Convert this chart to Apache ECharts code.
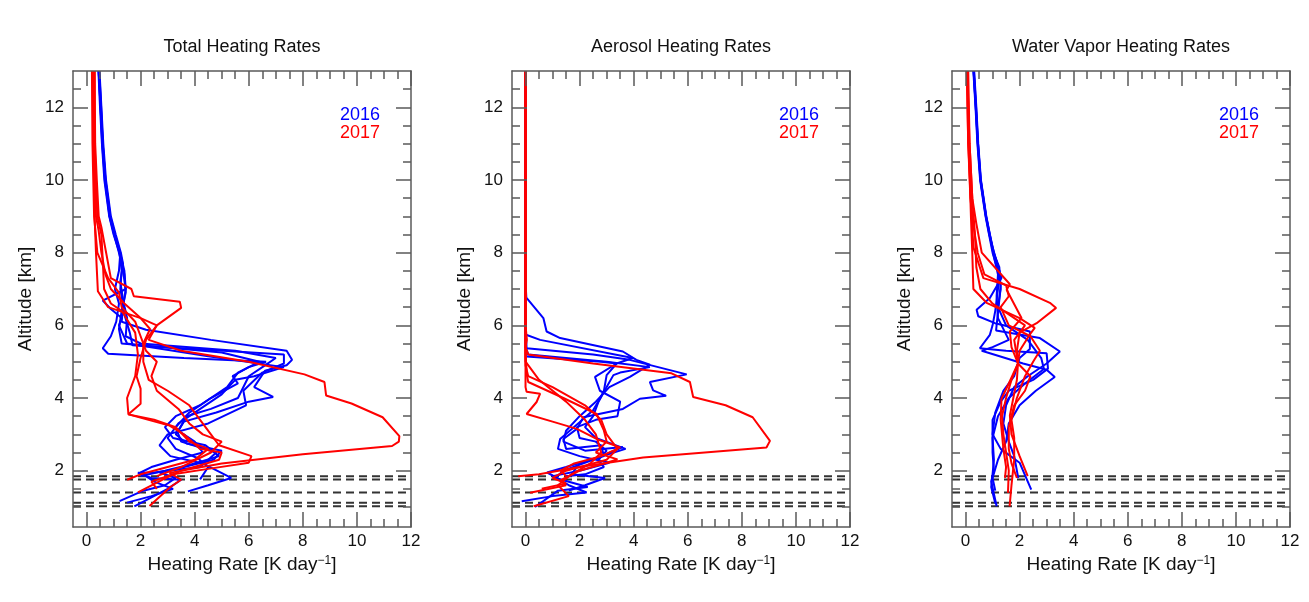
<!DOCTYPE html>
<html>
<head>
<meta charset="utf-8">
<script src="https://cdn.jsdelivr.net/npm/echarts@6/dist/echarts.min.js"></script>
<style>html,body{margin:0;padding:0;background:#fff;}#c{width:1309px;height:602px;}</style>
</head>
<body>
<div id="c"></div>
<script>
// ---------------- data ----------------
const panelTitles = ['Total Heating Rates', 'Aerosol Heating Rates', 'Water Vapor Heating Rates'];
const xAxisName = 'Heating Rate [K day{sup|\u22121}]';
const yAxisName = 'Altitude [km]';
const xMajorTicks = [0, 2, 4, 6, 8, 10, 12];
const xMinorTicks = [0.5, 1, 1.5, 2.5, 3, 3.5, 4.5, 5, 5.5, 6.5, 7, 7.5, 8.5, 9, 9.5, 10.5, 11, 11.5];
const yMajorTicks = [2, 4, 6, 8, 10, 12];
const yMinorTicks = [1, 1.5, 2.5, 3, 3.5, 4.5, 5, 5.5, 6.5, 7, 7.5, 8.5, 9, 9.5, 10.5, 11, 11.5, 12.5];
const dashedAltitudes = [1.85, 1.76, 1.4, 1.12, 1.02];
const legendYears = ['2016', '2017'];

// Total heating rate profiles [heating rate, altitude]
const total2016 = [
  [[0.45,13],[0.52,12],[0.58,11],[0.68,10],[0.85,9],[1.02,8.5],[1.2,8],[1.35,7.5],[1.45,7],[1.35,6.5],[1.3,6.1],[2.2,5.88],[4.6,5.6],[7.4,5.3],[7.6,5.05],[7.4,4.9],[6.6,4.75],[6.2,4.3],[6.9,4.03],[6.0,3.9],[4.8,3.6],[3.6,3.35],[3.3,3.0],[3.7,2.75],[5.0,2.55],[4.7,2.3],[3.6,2.1],[2.7,1.95],[3.3,1.8],[2.9,1.6],[2.1,1.45],[1.22,1.16]],
  [[0.47,13],[0.54,12],[0.6,11],[0.7,10],[0.88,9],[1.05,8.5],[1.25,8],[1.2,7.5],[1.05,7.0],[1.2,6.6],[1.1,6.1],[0.9,5.7],[0.6,5.37],[0.8,5.22],[3.6,5.1],[6.64,5.0],[6.0,4.85],[5.4,4.6],[5.6,4.4],[4.6,4.0],[3.8,3.6],[3.3,3.2],[3.5,2.8],[4.8,2.5],[4.2,2.1],[2.5,1.95],[1.9,1.94],[2.4,1.8],[3.5,1.75],[3.0,1.5],[1.77,1.02]],
  [[0.44,13],[0.5,12],[0.57,11],[0.66,10],[0.84,9],[1.0,8.5],[1.22,8.0],[1.3,7.5],[1.25,7.0],[1.3,6.8],[1.4,6.3],[1.6,5.8],[1.7,5.45],[4.0,5.35],[7.3,5.2],[7.3,4.95],[6.5,4.7],[5.8,4.2],[5.9,3.8],[4.5,3.3],[3.0,3.0],[2.7,2.7],[3.1,2.4],[4.3,2.2],[5.35,1.8],[4.5,1.6],[3.75,1.43]],
  [[0.46,13],[0.53,12],[0.6,11],[0.7,10],[0.87,9],[1.05,8.5],[1.24,8.0],[1.4,7.5],[1.45,7.0],[0.6,6.68],[0.9,6.45],[1.3,6.2],[1.2,6.0],[1.5,5.5],[4.5,5.15],[7.3,4.85],[6.2,4.6],[5.5,4.5],[5.0,4.1],[4.0,3.6],[3.4,3.3],[3.0,2.9],[3.3,2.6],[4.1,2.35],[4.5,2.1],[4.2,1.76]],
  [[0.45,13],[0.52,12],[0.59,11],[0.69,10],[0.86,9],[1.03,8.5],[1.23,8.0],[1.4,7.4],[1.45,6.9],[1.3,6.4],[1.2,5.9],[1.3,5.5],[5.0,5.25],[6.4,5.0],[5.6,4.7],[5.2,4.3],[4.2,3.8],[3.3,3.5],[2.9,3.2],[3.2,2.9],[4.4,2.7],[4.9,2.4],[4.0,2.2],[2.9,2.0],[2.0,1.85]],
  [[0.48,13],[0.55,12],[0.62,11],[0.72,10],[0.9,9],[1.08,8.5],[1.27,8.0],[1.35,7.7],[1.25,7.2],[1.35,6.7],[1.5,6.2],[1.45,5.7],[2.0,5.5],[5.5,5.3],[7.0,5.1],[6.6,4.9],[6.0,4.6],[5.6,4.0],[4.6,3.7],[3.7,3.5],[3.4,3.1],[4.0,2.8],[4.3,2.5],[3.3,2.3],[2.4,2.1],[2.0,1.95],[2.5,1.7],[3.2,1.5],[2.4,1.3],[1.5,1.12]]
];
const total2017 = [
  [[0.22,13],[0.25,11],[0.3,10],[0.35,9],[0.45,8.6],[0.55,8.0],[0.7,7.4],[0.9,7.0],[1.4,6.6],[2.0,6.2],[2.6,6.0],[2.3,5.6],[3.5,5.3],[6.0,5.0],[8.06,4.65],[8.8,4.44],[8.86,4.07],[9.8,3.85],[10.95,3.47],[11.57,2.95],[11.55,2.8],[11.3,2.68],[8.0,2.45],[5.0,2.2],[3.07,1.94],[3.5,1.75],[3.1,1.55],[2.33,1.03]],
  [[0.3,13],[0.32,11],[0.38,10],[0.45,9],[0.55,8.7],[0.9,7.3],[1.66,7.0],[1.75,6.8],[3.45,6.65],[3.5,6.48],[2.6,6.0],[2.2,5.6],[2.0,5.1],[1.85,4.6],[2.0,4.26],[2.0,3.84],[1.55,3.55],[3.07,3.24],[3.6,3.0],[4.2,2.6],[5.0,2.5],[4.9,2.3],[3.5,2.0],[2.8,1.75],[1.9,1.4]],
  [[0.25,13],[0.28,11],[0.3,10],[0.3,9],[0.35,8],[0.42,6.94],[0.8,6.5],[2.0,6.2],[2.35,5.9],[2.1,5.5],[2.1,5.0],[2.3,4.5],[3.0,4.2],[3.8,3.8],[4.2,3.4],[4.6,3.0],[4.9,2.7],[6.1,2.4],[6.0,2.22],[4.5,2.05],[3.2,1.9],[2.4,1.7],[2.6,1.5]],
  [[0.2,13],[0.22,11],[0.25,10],[0.28,9],[0.4,8],[0.8,7.3],[1.2,6.9],[1.3,6.5],[1.8,6.1],[2.0,5.7],[2.2,5.3],[2.6,5.0],[2.4,4.6],[2.6,4.2],[3.4,3.7],[3.8,3.3],[4.3,3.0],[5.0,2.8],[4.6,2.5],[3.5,2.1],[2.6,1.85]],
  [[0.3,13],[0.3,11],[0.35,10],[0.4,9],[0.55,8.5],[0.6,7.8],[0.65,7.0],[0.9,6.6],[1.3,6.4],[1.8,5.8],[1.9,5.2],[1.8,4.6],[1.5,4.0],[1.55,3.55],[2.5,3.4],[3.3,3.2],[3.8,2.8],[4.5,2.6],[4.0,2.3],[3.0,2.1],[2.0,1.9],[1.5,1.75]]
];

// Aerosol heating rate profiles
const aerosol2016 = [
  [[0,13],[0,7.2],[0.03,6.76],[0.66,6.2],[0.78,5.83],[1.28,5.65],[3.6,5.28],[4.1,5.05],[4.6,4.92],[3.86,4.58],[3.1,4.3],[2.6,3.9],[2.0,3.5],[1.5,3.1],[1.4,2.8],[2.2,2.55],[3.6,2.65],[2.5,2.3],[1.4,2.0],[1.1,1.8],[2.3,1.55],[1.2,1.45],[0.35,1.0]],
  [[0,13],[0,6.2],[0.02,5.74],[0.54,5.6],[3.97,5.1],[3.37,4.95],[3.0,4.63],[2.9,4.2],[2.75,3.98],[2.5,3.66],[2.0,3.33],[1.28,2.87],[1.2,2.6],[2.0,2.4],[3.1,2.22],[2.0,2.0],[1.0,1.85],[1.6,1.6],[2.26,1.4],[1.0,1.3],[-0.14,1.16]],
  [[0,13],[0,6],[0.04,5.37],[2.5,5.2],[3.85,5.05],[5.96,4.65],[4.6,4.44],[4.72,4.21],[5.2,4.06],[4.23,3.98],[3.6,3.7],[2.14,3.47],[1.9,3.15],[1.4,2.87],[1.5,2.6],[2.8,2.7],[2.9,2.4],[2.0,2.2],[1.7,1.9],[2.94,1.8],[2.2,1.6],[1.6,1.45]],
  [[0,13],[0,5.6],[0.04,5.14],[2.8,5.0],[3.37,4.95],[2.57,4.58],[2.75,4.2],[3.5,3.9],[3.4,3.5],[2.6,3.4],[1.9,3.2],[2.0,2.9],[2.6,2.8],[3.0,2.55],[2.7,2.3],[2.9,2.1],[2.2,1.9],[1.5,1.85]],
  [[0,13],[0,5.4],[0.1,5.2],[3.0,5.0],[4.6,4.85],[3.5,4.7],[3.25,4.63],[3.0,4.3],[2.7,3.9],[2.5,3.5],[2.2,3.2],[2.6,2.9],[3.7,2.6],[2.4,2.3],[1.5,2.1],[0.8,1.95],[1.3,1.75]]
];
const aerosol2017 = [
  [[0,13],[0,6],[0.05,5.6],[0,5.4],[0.1,5.2],[2.5,4.95],[5.4,4.68],[6.08,4.44],[6.2,4.03],[7.4,3.8],[8.4,3.47],[9.04,2.82],[8.91,2.64],[4.35,2.36],[2.0,2.1],[0.5,1.9],[-0.27,1.85]],
  [[0,13],[0,4.9],[0.1,4.6],[1.0,4.3],[2.2,3.8],[2.8,3.4],[3.0,3.0],[3.4,2.6],[3.0,2.3],[1.5,2.0],[1.0,1.8],[1.5,1.65],[0.6,1.5]],
  [[0,13],[0,5.2],[0.05,4.63],[0.1,4.44],[1.4,4.0],[2.63,3.56],[2.9,3.1],[3.0,2.8],[2.6,2.5],[3.4,2.31],[2.0,2.0],[1.28,1.73],[1.5,1.6],[0.17,1.39]],
  [[0,13],[0,4.3],[0.04,4.17],[0.54,4.12],[0.41,3.89],[0.04,3.56],[1.0,3.35],[1.9,3.15],[2.7,2.85],[3.5,2.64],[2.8,2.4],[1.8,2.2],[1.3,2.0],[1.5,1.85]],
  [[0,13],[0,5.0],[0.2,4.8],[0.5,4.5],[1.5,3.9],[2.2,3.4],[2.6,3.0],[2.8,2.5],[2.4,2.2],[1.7,1.9],[1.2,1.6],[1.6,1.3],[0.3,1.02]]
];

// Water vapor heating rate profiles
const water2016 = [
  [[0.3,13],[0.38,12],[0.45,11],[0.55,10],[0.75,9],[0.88,8.5],[1.0,8.15],[1.33,7.3],[0.9,6.75],[0.41,6.43],[0.47,6.25],[1.09,6.06],[2.38,5.83],[2.38,5.35],[2.0,5.1],[1.8,4.6],[1.4,4.2],[1.1,3.6],[1.0,3.0],[1.0,2.5],[1.05,2.0],[0.95,1.7],[1.15,1.02]],
  [[0.32,13],[0.4,12],[0.47,11],[0.57,10],[0.77,9],[0.9,8.5],[1.05,8.0],[1.25,7.5],[1.2,7.0],[1.1,6.4],[1.0,6.0],[0.9,5.74],[0.53,5.37],[1.5,5.3],[3.0,5.23],[3.05,4.81],[2.5,4.5],[1.6,4.2],[1.3,3.9],[1.0,3.4],[1.0,3.0],[1.3,2.6],[2.0,2.22],[2.43,1.48]],
  [[0.29,13],[0.37,12],[0.44,11],[0.54,10],[0.74,9],[0.87,8.5],[1.0,8.0],[1.2,7.5],[1.3,7.1],[1.25,6.7],[1.13,5.86],[2.75,5.65],[3.49,5.28],[3.0,4.95],[2.3,4.6],[1.8,4.3],[1.5,3.8],[1.4,3.3],[1.6,2.8],[1.8,2.4],[1.95,1.8]],
  [[0.31,13],[0.39,12],[0.46,11],[0.56,10],[0.76,9],[0.89,8.5],[1.02,8.0],[1.2,7.4],[1.15,6.8],[1.2,6.2],[1.6,5.6],[1.0,5.4],[0.6,5.3],[2.13,4.95],[3.0,4.78],[3.3,4.58],[2.6,4.2],[2.0,3.8],[1.6,3.3],[1.5,2.8],[1.2,2.3],[1.0,1.8],[1.1,1.45]],
  [[0.3,13],[0.38,12],[0.46,11],[0.56,10],[0.76,9],[0.9,8.5],[1.03,8.0],[1.25,7.6],[1.3,7.0],[1.2,6.5],[1.5,6.0],[2.3,5.6],[2.8,5.1],[2.9,4.8],[2.2,4.4],[1.6,4.0],[1.2,3.5],[1.0,2.9],[1.05,2.3],[1.0,1.9],[0.95,1.55],[1.1,1.1]]
];
const water2017 = [
  [[0.05,13],[0.1,11],[0.2,9.5],[0.29,8.15],[0.66,7.3],[2.0,7.0],[3.12,6.62],[3.35,6.48],[2.63,6.06],[2.0,5.8],[1.9,5.3],[1.94,4.95],[1.7,4.5],[1.5,4.0],[1.35,3.5],[1.4,3.0],[1.5,2.5],[1.6,2.0],[1.57,1.39]],
  [[0.08,13],[0.12,11],[0.2,9],[0.25,8.0],[0.29,7.0],[0.78,6.62],[2.0,6.2],[2.56,5.93],[2.38,5.75],[2.0,5.3],[1.94,4.95],[1.6,4.4],[1.33,3.98],[1.3,3.4],[1.4,2.6],[1.5,2.1],[1.46,1.8]],
  [[0.06,13],[0.15,11],[0.25,9.5],[0.4,8.8],[0.6,8.0],[1.64,7.13],[1.52,6.98],[2.07,6.2],[1.64,5.83],[1.7,5.4],[1.94,4.95],[1.9,4.5],[1.64,3.52],[1.7,3.0],[2.0,2.4],[2.3,1.85]],
  [[0.05,13],[0.1,11],[0.18,9.5],[0.3,8.7],[0.45,8.0],[0.7,7.4],[1.5,7.1],[1.6,6.8],[1.3,6.5],[1.6,6.0],[2.4,5.7],[2.75,5.3],[2.5,5.0],[2.2,4.6],[1.89,3.98],[1.7,3.4],[1.8,2.9],[1.8,2.3],[1.7,1.6],[1.63,1.02]],
  [[0.1,13],[0.15,11],[0.25,9.5],[0.35,8.5],[0.4,7.6],[0.55,7.0],[1.0,6.6],[1.6,6.3],[2.2,6.0],[1.8,5.6],[1.94,4.95],[2.4,4.6],[2.2,4.2],[1.8,3.8],[1.6,3.2],[1.6,2.6],[1.7,2.2],[1.9,1.8]]
];

// ---------------- layout / style ----------------
const X_MIN = -0.5, X_MAX = 12, Y_MIN = 0.45, Y_MAX = 13;
const gridLefts = [73, 512, 952];
const GRID_TOP = 71, GRID_W = 338, GRID_H = 456;
const FONT = 'Liberation Sans, Arial, Helvetica, sans-serif';
const AXIS_COLOR = '#5a5a5a';
const BLUE = '#0000ff', RED = '#ff0000';
const panels = [[total2016, total2017], [aerosol2016, aerosol2017], [water2016, water2017]];

const grids = [], xAxes = [], yAxes = [], series = [], titles = [], legends = [];
const lineStyleAxis = {color: AXIS_COLOR, width: 1.5};

function mkAxis(kind, gi, pos, major, labels) {
  const isX = kind === 'x';
  const a = {
    type: 'value', gridIndex: gi, position: pos,
    min: isX ? X_MIN : Y_MIN, max: isX ? X_MAX : Y_MAX,
    splitLine: {show: false},
    axisLine: {show: major, onZero: false, lineStyle: lineStyleAxis},
    axisTick: {show: true, inside: true, length: major ? 15 : 8,
      customValues: isX ? (major ? xMajorTicks : xMinorTicks) : (major ? yMajorTicks : yMinorTicks),
      lineStyle: lineStyleAxis},
    axisLabel: {show: false},
    z: 5
  };
  if (labels) {
    a.axisLabel = {show: true, customValues: isX ? xMajorTicks : yMajorTicks,
      color: '#111', fontSize: 17, fontFamily: FONT, margin: isX ? 6 : 9};
    a.name = isX ? xAxisName : yAxisName;
    a.nameLocation = 'middle';
    a.nameGap = isX ? 17 : 38;
    a.nameTextStyle = {color: '#111', fontSize: 19, fontFamily: FONT,
      rich: {sup: {fontSize: 12, fontFamily: FONT, color: '#111', verticalAlign: 'top', padding: [0, 0, 8, 0]}}};
  }
  return a;
}

for (let gi = 0; gi < 3; gi++) {
  grids.push({left: gridLefts[gi], top: GRID_TOP, width: GRID_W, height: GRID_H, containLabel: false});
  xAxes.push(mkAxis('x', gi, 'bottom', true, true), mkAxis('x', gi, 'bottom', false, false),
             mkAxis('x', gi, 'top', true, false), mkAxis('x', gi, 'top', false, false));
  yAxes.push(mkAxis('y', gi, 'left', true, true), mkAxis('y', gi, 'left', false, false),
             mkAxis('y', gi, 'right', true, false), mkAxis('y', gi, 'right', false, false));
  titles.push({text: panelTitles[gi], left: gridLefts[gi] + GRID_W / 2, top: 38, textAlign: 'center', padding: 0,
    textStyle: {fontSize: 18, fontWeight: 'normal', color: '#111', fontFamily: FONT}});
  legends.push({orient: 'vertical', left: gridLefts[gi] + 262, top: 106, itemWidth: 0, itemHeight: 0, itemGap: 0, padding: 0,
    selectedMode: false,
    data: [{name: legendYears[0], icon: 'none', textStyle: {color: BLUE}}, {name: legendYears[1], icon: 'none', textStyle: {color: RED}}],
    textStyle: {fontSize: 18, fontFamily: FONT, lineHeight: 16, padding: 0}});
  const ax = gi * 4;
  dashedAltitudes.forEach(h => {
    series.push({type: 'line', xAxisIndex: ax, yAxisIndex: ax, data: [[X_MIN, h], [X_MAX, h]], symbol: 'none', silent: true,
      lineStyle: {color: '#333', width: 2, type: [8, 5]}, z: 1});
  });
  const [p16, p17] = panels[gi];
  p16.forEach(d => series.push({name: legendYears[0], type: 'line', xAxisIndex: ax, yAxisIndex: ax, data: d, symbol: 'none',
    lineStyle: {color: BLUE, width: 2}, itemStyle: {color: BLUE}, z: 3}));
  p17.forEach(d => series.push({name: legendYears[1], type: 'line', xAxisIndex: ax, yAxisIndex: ax, data: d, symbol: 'none',
    lineStyle: {color: RED, width: 2}, itemStyle: {color: RED}, z: 4}));
}

const chart = echarts.init(document.getElementById('c'), null, {renderer: 'canvas'});
chart.setOption({
  animation: false, backgroundColor: '#fff',
  title: titles, legend: legends, grid: grids, xAxis: xAxes, yAxis: yAxes, series: series
});
</script>
</body>
</html>
